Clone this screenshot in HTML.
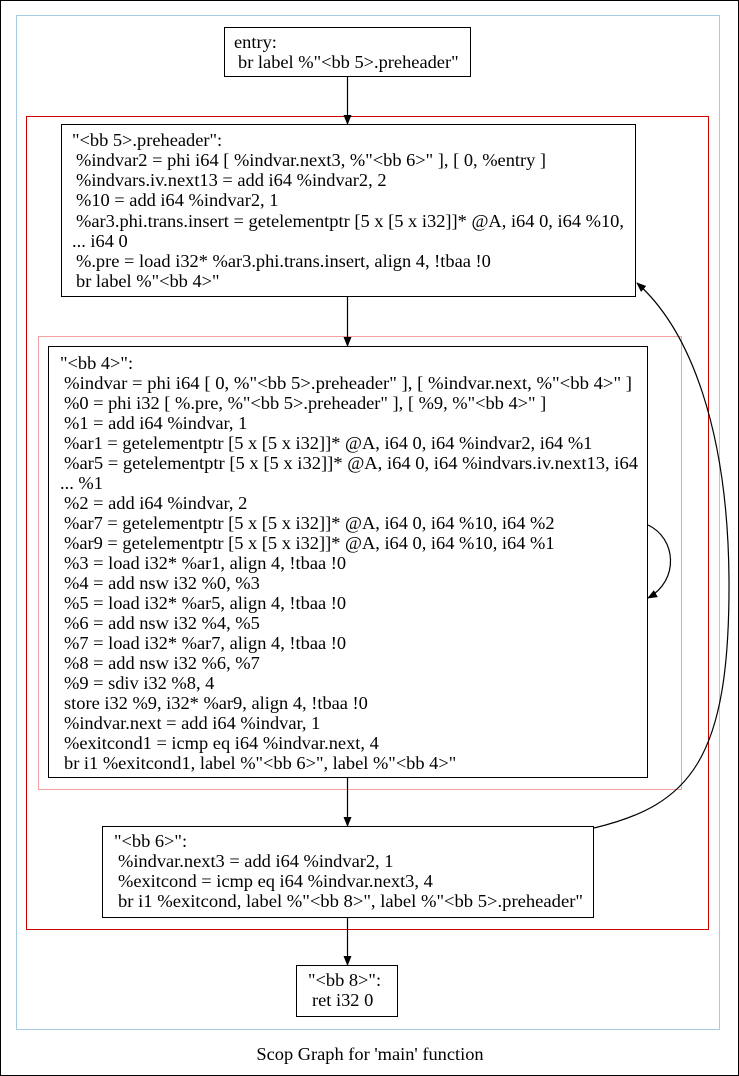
<!DOCTYPE html>
<html><head><meta charset="utf-8"><style>
html,body{margin:0;padding:0;background:#fff}
svg{display:block}
text{font-family:"Liberation Serif",serif;font-size:18.4px;fill:#000}
</style></head><body>
<svg width="739" height="1076" viewBox="0 0 739 1076" xmlns="http://www.w3.org/2000/svg">
<defs><marker id="a" markerWidth="10" markerHeight="8" refX="9" refY="4" orient="auto" markerUnits="userSpaceOnUse"><path d="M0,0 L10,4 L0,8 z" fill="#000"/></marker></defs>
<rect x="0.5" y="0.5" width="738" height="1075" fill="#fff" stroke="#000"/>
<rect x="16.5" y="15.5" width="703" height="1014" fill="none" stroke="#a8cce0"/>
<rect x="26.5" y="116.5" width="682" height="813" fill="none" stroke="#d00000"/>
<rect x="38.5" y="336.5" width="643" height="453" fill="none" stroke="#f4a0a0"/>

<rect x="224.5" y="27.5" width="246" height="49" fill="none" stroke="#000"/>
<text x="234" y="48">entry:</text>
<text x="238" y="68">br label %"&lt;bb 5&gt;.preheader"</text>

<rect x="61.5" y="124.5" width="574" height="172" fill="none" stroke="#000"/>
<text x="72" y="146">"&lt;bb 5&gt;.preheader":</text>
<text x="76" y="166">%indvar2 = phi i64 [ %indvar.next3, %"&lt;bb 6&gt;" ], [ 0, %entry ]</text>
<text x="76" y="186">%indvars.iv.next13 = add i64 %indvar2, 2</text>
<text x="76" y="206">%10 = add i64 %indvar2, 1</text>
<text x="76" y="227" textLength="548" lengthAdjust="spacingAndGlyphs">%ar3.phi.trans.insert = getelementptr [5 x [5 x i32]]* @A, i64 0, i64 %10,</text>
<text x="72" y="247">... i64 0</text>
<text x="76" y="267">%.pre = load i32* %ar3.phi.trans.insert, align 4, !tbaa !0</text>
<text x="76" y="287">br label %"&lt;bb 4&gt;"</text>

<rect x="48.5" y="346.5" width="599" height="431" fill="none" stroke="#000"/>
<text x="60" y="369">"&lt;bb 4&gt;":</text>
<text x="64" y="389" textLength="568" lengthAdjust="spacingAndGlyphs">%indvar = phi i64 [ 0, %"&lt;bb 5&gt;.preheader" ], [ %indvar.next, %"&lt;bb 4&gt;" ]</text>
<text x="64" y="409">%0 = phi i32 [ %.pre, %"&lt;bb 5&gt;.preheader" ], [ %9, %"&lt;bb 4&gt;" ]</text>
<text x="64" y="429">%1 = add i64 %indvar, 1</text>
<text x="64" y="449">%ar1 = getelementptr [5 x [5 x i32]]* @A, i64 0, i64 %indvar2, i64 %1</text>
<text x="64" y="469" textLength="574" lengthAdjust="spacingAndGlyphs">%ar5 = getelementptr [5 x [5 x i32]]* @A, i64 0, i64 %indvars.iv.next13, i64</text>
<text x="60" y="489">... %1</text>
<text x="64" y="509">%2 = add i64 %indvar, 2</text>
<text x="64" y="529">%ar7 = getelementptr [5 x [5 x i32]]* @A, i64 0, i64 %10, i64 %2</text>
<text x="64" y="549">%ar9 = getelementptr [5 x [5 x i32]]* @A, i64 0, i64 %10, i64 %1</text>
<text x="64" y="569">%3 = load i32* %ar1, align 4, !tbaa !0</text>
<text x="64" y="589">%4 = add nsw i32 %0, %3</text>
<text x="64" y="609">%5 = load i32* %ar5, align 4, !tbaa !0</text>
<text x="64" y="629">%6 = add nsw i32 %4, %5</text>
<text x="64" y="649">%7 = load i32* %ar7, align 4, !tbaa !0</text>
<text x="64" y="669">%8 = add nsw i32 %6, %7</text>
<text x="64" y="689">%9 = sdiv i32 %8, 4</text>
<text x="64" y="709">store i32 %9, i32* %ar9, align 4, !tbaa !0</text>
<text x="64" y="729">%indvar.next = add i64 %indvar, 1</text>
<text x="64" y="749">%exitcond1 = icmp eq i64 %indvar.next, 4</text>
<text x="64" y="769">br i1 %exitcond1, label %"&lt;bb 6&gt;", label %"&lt;bb 4&gt;"</text>

<rect x="102.5" y="826.5" width="491" height="91" fill="none" stroke="#000"/>
<text x="114" y="847">"&lt;bb 6&gt;":</text>
<text x="118" y="867">%indvar.next3 = add i64 %indvar2, 1</text>
<text x="118" y="887">%exitcond = icmp eq i64 %indvar.next3, 4</text>
<text x="118" y="907" textLength="465" lengthAdjust="spacingAndGlyphs">br i1 %exitcond, label %"&lt;bb 8&gt;", label %"&lt;bb 5&gt;.preheader"</text>

<rect x="296.5" y="965.5" width="101" height="51" fill="none" stroke="#000"/>
<text x="308" y="986">"&lt;bb 8&gt;":</text>
<text x="312" y="1006">ret i32 0</text>

<g fill="none" stroke="#000" stroke-width="1.2">
<path d="M347.5,77 L347.5,124" marker-end="url(#a)"/>
<path d="M347.5,297 L347.5,346" marker-end="url(#a)"/>
<path d="M347.5,778 L347.5,826" marker-end="url(#a)"/>
<path d="M347.5,918 L347.5,965" marker-end="url(#a)"/>
<path d="M648,525 C676,538 680,580 648,598" marker-end="url(#a)"/>
<path d="M594,828 C690,805 730,760 729,580 C728,430 690,330 637,283" marker-end="url(#a)"/>
</g>

<text x="370" y="1060" text-anchor="middle">Scop Graph for 'main' function</text>
</svg>
</body></html>
